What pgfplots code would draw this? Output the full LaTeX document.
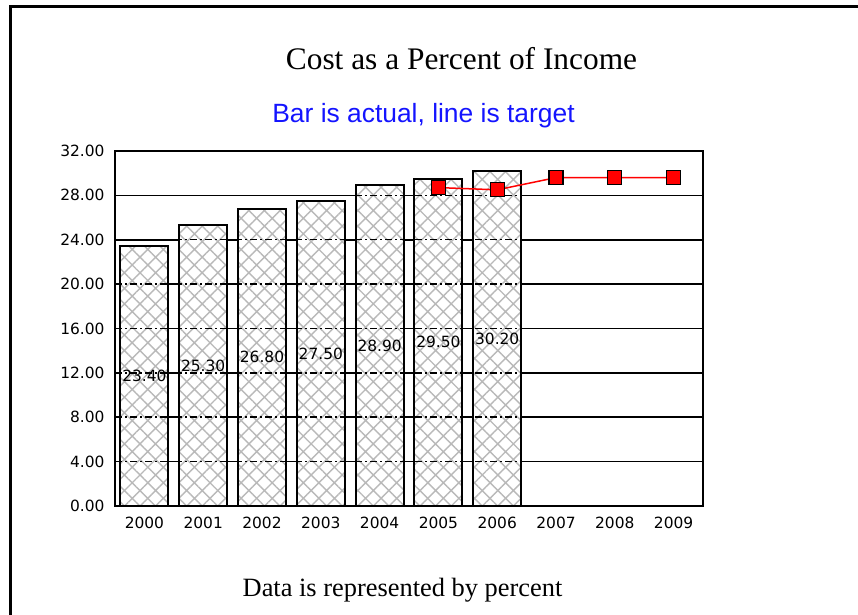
\documentclass[border=0pt]{standalone}
\usepackage{fontspec}
\setmainfont{Liberation Serif}
\newfontfamily\dejavu{DejaVu Sans}
\newfontfamily\arialf{Liberation Sans}
\usepackage{pgfplots}
\pgfplotsset{compat=1.18}
\usepackage{pgfplotstable}
\usetikzlibrary{patterns.meta}
\definecolor{subblue}{RGB}{20,20,255}
\definecolor{hatchgray}{RGB}{185,185,185}
\tikzset{griddash/.style={black, line width=1.5bp, dash pattern=on 7bp off 3bp on 2bp off 3bp}}

\pgfplotstableread{
x v
0 23.40
1 25.30
2 26.80
3 27.50
4 28.90
5 29.50
6 30.20
}\actual

\pgfplotstableread{
x v
5 28.7
6 28.5
7 29.6
8 29.6
9 29.6
}\target

\begin{document}
\begin{tikzpicture}[x=1bp,y=1bp]
\path[use as bounding box] (0,0) rectangle (858,615);
\draw[line width=3bp] (10.5,0) -- (10.5,608) -- (858,608);
\node[anchor=base, font=\fontsize{31.5}{34}\selectfont] at (461.5,545) {Cost as a Percent of Income};
\node[anchor=base, text=subblue, font=\arialf\fontsize{26.5}{29}\selectfont] at (423.5,492) {Bar is actual, line is target};
\node[anchor=base, font=\fontsize{26.5}{29}\selectfont] at (402.5,18) {Data is represented by percent};

\begin{axis}[
  at={(115bp,109bp)}, anchor=south west,
  scale only axis, width=588bp, height=355bp,
  xmin=-0.5, xmax=9.5, ymin=0, ymax=32,
  xtick={0,1,2,3,4,5,6,7,8,9},
  xticklabels={2000,2001,2002,2003,2004,2005,2006,2007,2008,2009},
  ytick={0,4,8,12,16,20,24,28,32},
  major tick length=0pt,
  /pgf/number format/assume math mode=true,
  yticklabel style={/pgf/number format/fixed, /pgf/number format/fixed zerofill, /pgf/number format/precision=2, font=\dejavu\fontsize{15.5}{17}\selectfont, xshift=-7bp},
  xticklabel style={font=\dejavu\fontsize{15.5}{17}\selectfont, yshift=-8bp},
  ymajorgrids,
  major grid style={black, line width=1.6bp},
  axis line style={black, line width=2bp},
  clip=false,
]
\addplot[ybar, bar width=48bp, bar shift=0pt, draw=black, line width=2bp, fill=white,
  postaction={pattern={Hatch[angle=45, distance=11bp, line width=1.4bp]}, pattern color=hatchgray}]
  table[x=x, y=v] {\actual};
\draw[griddash] (axis cs:-0.5,4) -- (axis cs:6.5,4);
\draw[griddash] (axis cs:-0.5,8) -- (axis cs:6.5,8);
\draw[griddash] (axis cs:-0.5,12) -- (axis cs:6.5,12);
\draw[griddash] (axis cs:-0.5,16) -- (axis cs:6.5,16);
\draw[griddash] (axis cs:-0.5,20) -- (axis cs:6.5,20);
\draw[griddash] (axis cs:-0.5,24) -- (axis cs:6.5,24);
\draw[griddash] (axis cs:-0.5,28) -- (axis cs:6.5,28);
\addplot[draw=none, mark=none, nodes near coords, point meta=explicit,
  nodes near coords style={anchor=center, font=\dejavu\fontsize{15.5}{17}\selectfont, text=black,
    /pgf/number format/fixed, /pgf/number format/fixed zerofill, /pgf/number format/precision=2, /pgf/number format/assume math mode=true}]
  table[x=x, y expr=\thisrow{v}/2, meta=v] {\actual};
\addplot[red, line width=1.5bp, mark=square*, mark size=7bp, mark options={fill=red, draw=black, line width=1.2bp}]
  table[x=x, y=v] {\target};
\end{axis}
\end{tikzpicture}
\end{document}
